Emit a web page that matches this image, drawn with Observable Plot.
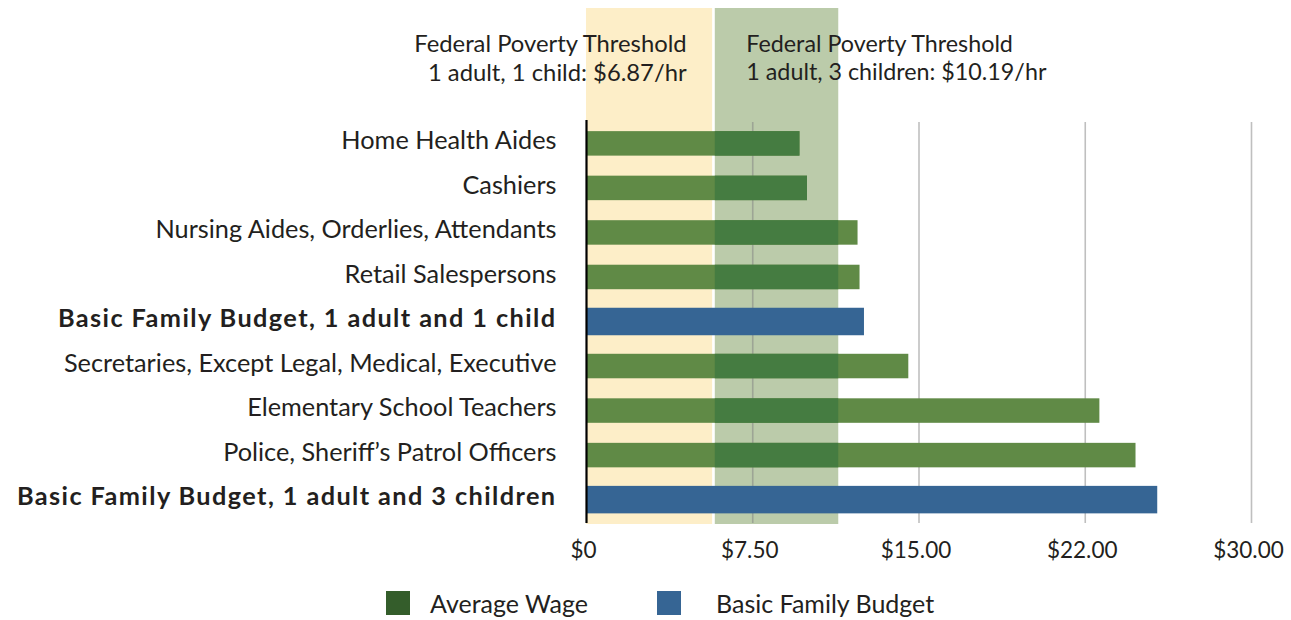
<!DOCTYPE html>
<html>
<head>
<meta charset="utf-8">
<script src="https://cdn.jsdelivr.net/npm/d3@7"></script>
<script src="https://cdn.jsdelivr.net/npm/@observablehq/plot@0.6"></script>
<style>
  html, body { margin: 0; padding: 0; background: #fff; }
  body { width: 1291px; height: 620px; overflow: hidden; font-family: Lato, "Open Sans", sans-serif; color: #231f20; }
  #chart svg { display: block; }
  .legend { display: flex; align-items: center; height: 40px; margin-top: 8px; font-size: 25px; }
  .sw { width: 24px; height: 24px; display: inline-block; margin-right: 20px; }
</style>
</head>
<body>
<div id="chart"></div>
<div class="legend">
  <span style="width:386px"></span>
  <span class="sw" style="background:#345d2b"></span><span style="width:227px">Average Wage</span>
  <span class="sw" style="background:#366594; margin-right:35px"></span><span>Basic Family Budget</span>
</div>
<script>
const categories = [
  "Home Health Aides",
  "Cashiers",
  "Nursing Aides, Orderlies, Attendants",
  "Retail Salespersons",
  "Basic Family Budget, 1 adult and 1 child",
  "Secretaries, Except Legal, Medical, Executive",
  "Elementary School Teachers",
  "Police, Sheriff’s Patrol Officers",
  "Basic Family Budget, 1 adult and 3 children"
];
const values = [9.63, 9.97, 12.25, 12.34, 12.54, 14.54, 23.16, 24.79, 25.77];
const kinds = ["Average Wage", "Average Wage", "Average Wage", "Average Wage", "Basic Family Budget",
  "Average Wage", "Average Wage", "Average Wage", "Basic Family Budget"];
const tickValues = [0, 7.5, 15, 22.5, 30];
const tickLabels = ["$0", "$7.50", "$15.00", "$22.00", "$30.00"];
const bandStarts = [0, 5.81];
const bandEnds = [5.69, 11.38];
const bandColors = ["#fdeec8", "#bbcbaa"];
const annotationLines = [
  "Federal Poverty Threshold\n1 adult, 1 child: $6.87/hr",
  "Federal Poverty Threshold\n1 adult, 3 children: $10.19/hr"
];

const rows = categories.map((c, i) => ({category: c, value: values[i], kind: kinds[i]}));
const wages = rows.filter(d => d.kind === "Average Wage");
const budgets = rows.filter(d => d.kind === "Basic Family Budget");
const bands = bandStarts.map((s, i) => ({x1: s, x2: bandEnds[i], fill: bandColors[i]}));
const boldSet = new Set(budgets.map(d => d.category));

const chart = Plot.plot({
  width: 1291,
  height: 575,
  marginLeft: 586,
  marginRight: 40,
  marginTop: 120,
  marginBottom: 52,
  style: {fontFamily: "Lato, 'Open Sans', sans-serif", color: "#231f20", background: "#fff"},
  x: {domain: [0, 30]},
  y: {domain: categories, paddingInner: 0.45, paddingOuter: 0.25, round: false},
  marks: [
    Plot.rectX(bands, {x1: "x1", x2: "x2", fill: "fill", insetTop: -112, insetBottom: -1}),
    Plot.ruleX(tickValues.slice(1), {stroke: "#7f7f7f", strokeOpacity: 0.5, strokeWidth: 1.6, insetTop: 2}),
    Plot.barX(wages, {y: "category", x: "value", fill: "#608a46"}),
    Plot.barX(wages, {y: "category", x1: bandStarts[1], x2: d => Math.min(d.value, bandEnds[1]), fill: "#457c41"}),
    Plot.barX(budgets, {y: "category", x: "value", fill: "#366594", insetTop: -1.5, insetBottom: -1.5}),
    Plot.ruleX([0], {stroke: "#000", strokeWidth: 2.2}),
    Plot.axisX({ticks: tickValues, tickFormat: (d, i) => tickLabels[i], tickSize: 0, tickPadding: 19,
      fontSize: 22.5, label: null, dx: -3}),
    Plot.axisY({tickSize: 0, tickPadding: 30, fontSize: 25.3, label: null, dy: -3}),
    Plot.text([annotationLines[0]], {x: bandEnds[0], text: d => d, frameAnchor: "top", lineAnchor: "top", dy: -88, dx: -26,
      textAnchor: "end", fontSize: 23.8, lineHeight: 1.18, fill: "#231f20"}),
    Plot.text([annotationLines[1]], {x: bandStarts[1], text: d => d, frameAnchor: "top", lineAnchor: "top", dy: -88, dx: 31,
      textAnchor: "start", fontSize: 23.3, lineHeight: 1.2, fill: "#231f20"})
  ]
});
d3.select(chart).selectAll("text")
  .filter(function() { return boldSet.has(this.textContent); })
  .attr("font-weight", "bold")
  .attr("letter-spacing", "1.4px");
document.getElementById("chart").append(chart);
</script>
</body>
</html>
